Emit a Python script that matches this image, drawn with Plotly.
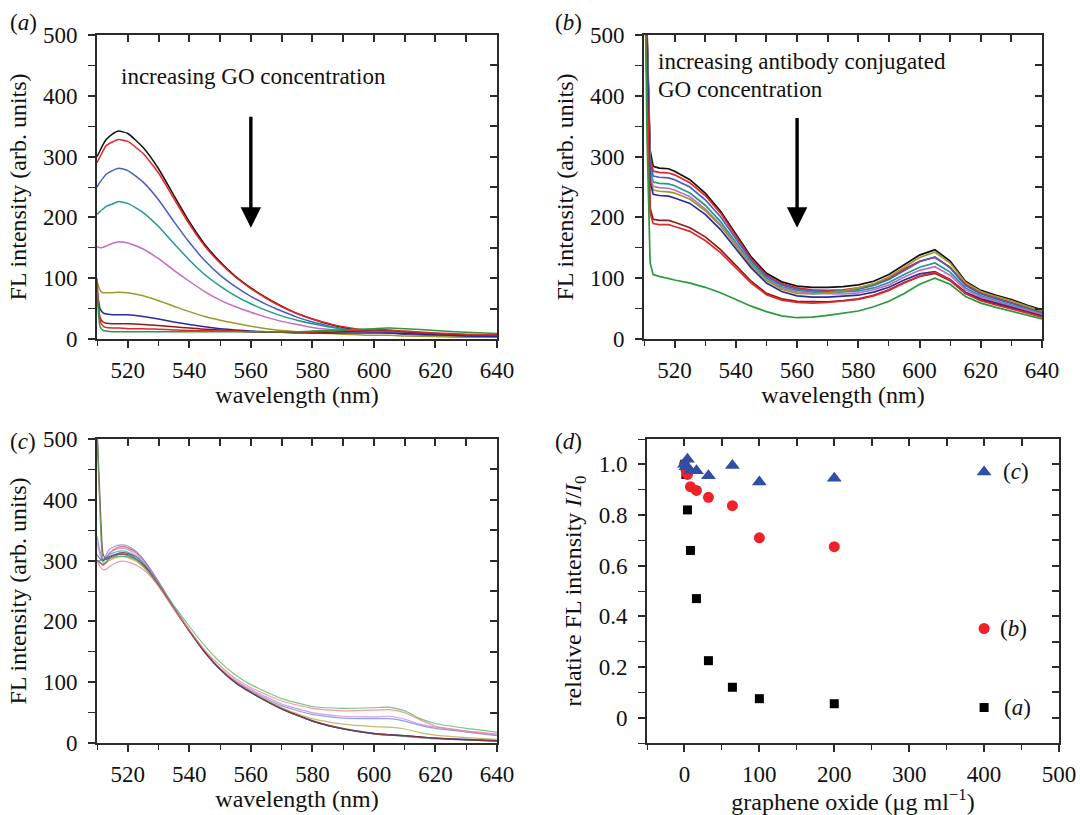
import plotly.graph_objects as go

# ---------------- data ----------------
names = ["0", "2", "4", "8", "16", "32", "64", "100", "200", "400"]
colors = ["#111111", "#ee2222", "#4a5cc4", "#20998e", "#c46cc8",
          "#9a9a28", "#2a2a9c", "#8b1c1c", "#e02a2a", "#2a9a3c"]

# panel (a)  GO
wl_a = [510, 511, 512, 513, 515, 517, 520, 525, 530, 535, 540, 545, 550, 555,
        560, 565, 570, 575, 580, 585, 590, 595, 600, 605, 610, 620, 630, 640]
a_black = [300, 310, 320, 328, 337, 342, 338, 315, 280, 236, 193, 156, 127, 103, 84, 68, 54, 42, 33, 25, 19, 15, 12, 10, 8, 6, 5, 4]
a_red = [290, 300, 310, 318, 324, 328, 325, 305, 273, 231, 189, 153, 125, 102, 83, 67, 53, 42, 33, 26, 20, 16, 13, 11, 9, 7, 5, 4]
a_blue = [250, 258, 265, 271, 277, 281, 277, 258, 229, 193, 159, 129, 105, 86, 70, 57, 46, 36, 28, 22, 17, 14, 12, 10, 9, 7, 5, 4]
a_teal = [205, 210, 214, 218, 222, 226, 223, 208, 185, 157, 130, 106, 87, 71, 58, 47, 38, 31, 25, 20, 16, 14, 13, 12, 11, 9, 7, 5]
a_magenta = [152, 150, 151, 153, 157, 160, 158, 148, 132, 113, 95, 78, 64, 53, 44, 36, 29, 24, 19, 16, 14, 12, 11, 10, 9, 7, 6, 5]
a_olive = [95, 80, 76, 76, 76, 77, 76, 71, 63, 54, 45, 37, 31, 26, 21, 17, 14, 12, 10, 9, 8, 7, 6, 6, 5, 4, 3, 3]
a_navy = [80, 50, 43, 41, 40, 40, 40, 37, 33, 28, 24, 20, 17, 15, 13, 12, 11, 10, 10, 10, 10, 10, 10, 10, 9, 7, 5, 4]
a_maroon = [75, 35, 28, 26, 25, 25, 25, 24, 22, 20, 18, 16, 15, 13, 12, 11, 11, 11, 11, 11, 12, 13, 14, 14, 12, 9, 7, 6]
a_red2 = [100, 30, 21, 19, 18, 18, 17, 17, 16, 15, 14, 14, 13, 13, 12, 12, 12, 12, 12, 13, 14, 15, 15, 15, 13, 10, 8, 7]
a_green = [85, 20, 14, 13, 12, 12, 12, 12, 12, 12, 12, 12, 12, 12, 12, 12, 12, 12, 13, 14, 15, 16, 17, 18, 17, 14, 11, 9]

# panel (b)  antibody conjugated GO
wl_b = [510, 511, 512, 513, 515, 518, 520, 525, 530, 535, 540, 545, 550, 555, 560, 565,
        570, 575, 580, 585, 590, 595, 600, 605, 610, 615, 620, 625, 630, 635, 640]
b_black = [700, 520, 310, 284, 281, 280, 276, 262, 240, 210, 173, 135, 108, 94, 87, 85, 85, 86, 89, 95, 106, 122, 138, 147, 128, 95, 80, 72, 65, 56, 48]
b_red = [700, 510, 300, 276, 274, 273, 270, 257, 236, 207, 170, 132, 105, 91, 84, 81, 80, 81, 84, 90, 100, 115, 128, 134, 118, 90, 76, 68, 61, 52, 44]
b_blue = [700, 500, 290, 268, 266, 265, 262, 250, 229, 201, 166, 129, 103, 89, 82, 79, 78, 79, 82, 88, 98, 113, 127, 135, 117, 88, 74, 66, 59, 51, 43]
b_teal = [700, 490, 280, 258, 256, 255, 252, 240, 220, 193, 160, 125, 100, 86, 80, 77, 76, 77, 79, 84, 93, 106, 118, 125, 110, 84, 71, 63, 56, 49, 41]
b_magenta = [700, 480, 272, 251, 249, 248, 245, 234, 214, 188, 156, 122, 97, 84, 78, 75, 74, 74, 76, 81, 89, 102, 113, 119, 105, 81, 69, 61, 54, 47, 40]
b_olive = [700, 470, 265, 245, 243, 242, 240, 230, 211, 186, 154, 121, 96, 82, 75, 74, 76, 79, 84, 91, 102, 118, 134, 143, 125, 93, 78, 70, 63, 54, 46]
b_navy = [700, 460, 258, 238, 236, 235, 232, 223, 205, 180, 149, 117, 92, 78, 71, 69, 69, 70, 72, 77, 85, 97, 107, 111, 98, 77, 66, 59, 52, 45, 38]
b_maroon = [700, 420, 215, 197, 195, 195, 192, 183, 168, 147, 121, 95, 75, 66, 62, 61, 61, 63, 66, 72, 81, 93, 103, 108, 96, 75, 64, 57, 51, 44, 37]
b_red2 = [700, 410, 207, 190, 188, 188, 185, 177, 162, 142, 117, 92, 73, 64, 60, 59, 60, 62, 65, 71, 80, 92, 103, 110, 97, 75, 63, 56, 50, 43, 36]
b_green = [700, 330, 125, 106, 103, 99, 97, 92, 85, 76, 65, 54, 45, 38, 35, 36, 39, 42, 46, 53, 62, 75, 90, 100, 90, 70, 59, 52, 46, 40, 33]

# panel (c)
wl_c = [510, 511, 512, 513, 514, 516, 518, 520, 523, 526, 530, 535, 540, 545, 550,
        555, 560, 570, 580, 590, 600, 605, 610, 615, 620, 630, 640]
c_black = [520, 400, 310, 302, 305, 310, 313, 312, 305, 290, 262, 222, 185, 150, 122, 100, 84, 57, 37, 24, 16, 14, 12, 10, 8, 6, 4]
c_red = [505, 380, 300, 305, 312, 320, 323, 321, 312, 295, 265, 223, 185, 150, 121, 99, 83, 56, 36, 23, 15, 13, 11, 9, 7, 5, 3]
c_blue = [340, 315, 300, 310, 318, 324, 326, 324, 314, 296, 265, 223, 185, 150, 122, 101, 86, 61, 47, 41, 40, 40, 36, 29, 24, 18, 12]
c_teal = [300, 300, 302, 306, 310, 314, 316, 314, 306, 290, 262, 222, 184, 149, 121, 99, 83, 56, 36, 23, 15, 13, 11, 9, 7, 5, 3]
c_magenta = [330, 310, 298, 305, 312, 318, 320, 318, 309, 292, 264, 223, 186, 151, 123, 103, 88, 64, 50, 44, 43, 44, 39, 31, 26, 19, 13]
c_olive = [300, 296, 292, 296, 300, 305, 307, 305, 298, 284, 258, 220, 184, 150, 122, 100, 84, 58, 40, 31, 27, 26, 23, 17, 13, 9, 6]
c_navy = [310, 303, 300, 304, 307, 310, 311, 310, 302, 288, 261, 222, 185, 150, 121, 99, 83, 56, 36, 23, 16, 14, 12, 10, 8, 6, 4]
c_maroon = [300, 297, 293, 298, 303, 308, 310, 308, 301, 287, 260, 221, 184, 149, 121, 99, 83, 56, 36, 23, 15, 13, 12, 10, 8, 5, 3]
c_pink = [300, 290, 285, 286, 290, 296, 299, 298, 292, 281, 258, 221, 186, 153, 127, 106, 91, 69, 57, 53, 54, 55, 50, 38, 28, 20, 15]
c_green = [520, 380, 295, 298, 303, 306, 307, 306, 300, 286, 262, 226, 192, 160, 133, 112, 96, 73, 60, 57, 58, 59, 53, 40, 32, 24, 18]

# panel (d)
conc = [0, 2, 4, 8, 16, 32, 64, 100, 200, 400]
rel_a = [1.0, 0.96, 0.82, 0.66, 0.47, 0.225, 0.12, 0.075, 0.055, 0.04]
rel_b = [1.0, 0.98, 0.96, 0.912, 0.897, 0.87, 0.837, 0.71, 0.675, 0.352]
rel_c = [1.0, 0.99, 1.02, 0.975, 0.975, 0.955, 0.995, 0.93, 0.945, 0.97]

xtick_wl = [520, 540, 560, 580, 600, 620, 640]
ytick_fl = [0, 100, 200, 300, 400, 500]
xtick_d = [0, 100, 200, 300, 400, 500]
ytick_d = [0, 0.2, 0.4, 0.6, 0.8, 1.0]
ytick_d_text = ["0", "0.2", "0.4", "0.6", "0.8", "1.0"]

# ---------------- figure ----------------
FONT = "Liberation Serif, Times New Roman, serif"
AX = "#2a2a2a"
FS = 23
FT = 24
W, H = 1080, 815

def dom_x(l, r):
    return [l / W, r / W]

def dom_y(t, b):
    return [1 - b / H, 1 - t / H]

fig = go.Figure()

a_series = [a_black, a_red, a_blue, a_teal, a_magenta, a_olive, a_navy, a_maroon, a_red2, a_green]
b_series = [b_black, b_red, b_blue, b_teal, b_magenta, b_olive, b_navy, b_maroon, b_red2, b_green]
c_series = [c_black, c_red, c_blue, c_teal, c_magenta, c_olive, c_navy, c_maroon, c_pink, c_green]
c_colors = ["#333333", "#e23a3a", "#6b7fe0", "#35a89d", "#c77cd0",
            "#a8a840", "#3a3aa8", "#902a2a", "#f07a8a", "#4cb35a"]

for s, col, nm in zip(a_series, colors, names):
    fig.add_trace(go.Scatter(x=wl_a, y=s, mode="lines", name=nm, xaxis="x", yaxis="y",
                             line=dict(color=col, width=1.5, shape="spline", smoothing=0.5)))
for s, col, nm in zip(b_series, colors, names):
    fig.add_trace(go.Scatter(x=wl_b, y=s, mode="lines", name=nm, xaxis="x2", yaxis="y2",
                             line=dict(color=col, width=1.7)))
for s, col, nm in zip(c_series, c_colors, names):
    fig.add_trace(go.Scatter(x=wl_c, y=s, mode="lines", name=nm, xaxis="x3", yaxis="y3",
                             opacity=0.75,
                             line=dict(color=col, width=1.2, shape="spline", smoothing=0.5)))

fig.add_trace(go.Scatter(x=conc, y=rel_a, mode="markers", xaxis="x4", yaxis="y4",
                         marker=dict(symbol="square", size=9, color="#000000")))
fig.add_trace(go.Scatter(x=conc, y=rel_b, mode="markers", xaxis="x4", yaxis="y4",
                         marker=dict(symbol="circle", size=11, color="#ee2228")))
fig.add_trace(go.Scatter(x=conc, y=rel_c, mode="markers", xaxis="x4", yaxis="y4",
                         marker=dict(symbol="triangle-up", size=13, color="#2f4ea8")))

tickfont = dict(family=FONT, size=FS, color="#111111")
titlefont = dict(family=FONT, size=FT, color="#111111")

def base_x(dom, anchor, rng, tickvals, minor_dtick, title, ticktext=None):
    d = dict(domain=dom, anchor=anchor, range=rng, tickmode="array", tickvals=tickvals,
             ticks="outside", ticklen=7, tickwidth=1.6, tickcolor=AX, automargin=False,
             showline=True, linecolor=AX, linewidth=1.8, showgrid=False, zeroline=False,
             tickfont=tickfont, ticklabelstandoff=2,
             title=dict(text=title, font=titlefont, standoff=2),
             minor=dict(ticks="outside", ticklen=5, tickwidth=1.4, tickcolor=AX,
                        dtick=minor_dtick, tick0=0, showgrid=False))
    if ticktext is not None:
        d["ticktext"] = ticktext
    return d

def base_y(dom, anchor, rng, tickvals, minor_dtick, title, ticktext=None):
    d = dict(domain=dom, anchor=anchor, range=rng, tickmode="array", tickvals=tickvals,
             ticks="outside", ticklen=7, tickwidth=1.6, tickcolor=AX, automargin=False,
             showline=True, linecolor=AX, linewidth=1.8, showgrid=False, zeroline=False,
             tickfont=tickfont, ticklabelstandoff=6,
             title=dict(text=title, font=titlefont, standoff=10),
             minor=dict(ticks="outside", ticklen=7, tickwidth=1.4, tickcolor=AX,
                        dtick=minor_dtick, tick0=0, showgrid=False))
    if ticktext is not None:
        d["ticktext"] = ticktext
    return d

def mirror_x(over, anchor, rng, dtick, minor_dtick):
    return dict(overlaying=over, anchor=anchor, side="top", range=rng, automargin=False,
                tick0=0, dtick=dtick, ticks="inside", ticklen=7, tickwidth=1.6, tickcolor=AX,
                showticklabels=False, showline=True, linecolor=AX, linewidth=1.8,
                showgrid=False, zeroline=False,
                minor=dict(ticks="inside", ticklen=6, tickwidth=1.4, tickcolor=AX,
                           dtick=minor_dtick, tick0=0, showgrid=False))

def mirror_y(over, anchor, rng, dtick, minor_dtick):
    return dict(overlaying=over, anchor=anchor, side="right", range=rng, automargin=False,
                tick0=0, dtick=dtick, ticks="inside", ticklen=7, tickwidth=1.6, tickcolor=AX,
                showticklabels=False, showline=True, linecolor=AX, linewidth=1.8,
                showgrid=False, zeroline=False,
                minor=dict(ticks="inside", ticklen=7, tickwidth=1.4, tickcolor=AX,
                           dtick=minor_dtick, tick0=0, showgrid=False))

dxa = dom_x(97, 497)
dxb = dom_x(644, 1042)
dxd = dom_x(647, 1059)
dytop = dom_y(35, 339)
dybot = dom_y(439, 743)

ylab = "FL intensity (arb. units)"
xlab = "wavelength (nm)"

layout = dict(
    template="none",
    width=W, height=H, margin=dict(l=0, r=0, t=0, b=0, pad=0, autoexpand=False),
    paper_bgcolor="white", plot_bgcolor="white", showlegend=False,
    font=dict(family=FONT, size=FS, color="#111111"),
    xaxis=base_x(dxa, "y", [510, 640], xtick_wl, 10, xlab),
    yaxis=base_y(dytop, "x", [0, 500], ytick_fl, 50, ylab),
    xaxis2=base_x(dxb, "y2", [510, 640], xtick_wl, 10, xlab),
    yaxis2=base_y(dytop, "x2", [0, 500], ytick_fl, 50, ylab),
    xaxis3=base_x(dxa, "y3", [510, 640], xtick_wl, 10, xlab),
    yaxis3=base_y(dybot, "x3", [0, 500], ytick_fl, 50, ylab),
    xaxis4=base_x(dxd, "y4", [-50, 500], xtick_d, 50, "graphene oxide (μg ml<sup>−1</sup>)"),
    yaxis4=base_y(dybot, "x4", [-0.1, 1.1], ytick_d, 0.1,
                  "relative FL intensity <i>I</i>/<i>I</i><sub>0</sub>", ytick_d_text),
    xaxis5=mirror_x("x", "y", [510, 640], 10, 10),
    yaxis5=mirror_y("y", "x", [0, 500], 50, 50),
    xaxis6=mirror_x("x2", "y2", [510, 640], 10, 10),
    yaxis6=mirror_y("y2", "x2", [0, 500], 50, 50),
    xaxis7=mirror_x("x3", "y3", [510, 640], 10, 10),
    yaxis7=mirror_y("y3", "x3", [0, 500], 50, 50),
    xaxis8=mirror_x("x4", "y4", [-50, 500], 50, 50),
    yaxis8=mirror_y("y4", "x4", [-0.1, 1.1], 0.1, 0.1),
)
fig.update_layout(**layout)

# mirror-axis holders (empty traces so overlay axes are drawn)
for xa, ya in [("x5", "y"), ("x", "y5"), ("x6", "y2"), ("x2", "y6"),
               ("x7", "y3"), ("x3", "y7"), ("x8", "y4"), ("x4", "y8")]:
    fig.add_trace(go.Scatter(x=[None], y=[None], xaxis=xa, yaxis=ya, mode="lines",
                             hoverinfo="skip", showlegend=False))

ann = []
# panel letters
for txt, px, py in [("(<i>a</i>)", 8, 23), ("(<i>b</i>)", 553, 23),
                    ("(<i>c</i>)", 8, 441), ("(<i>d</i>)", 553, 441)]:
    ann.append(dict(text=txt, xref="paper", yref="paper", x=px / W, y=1 - py / H,
                    xanchor="left", yanchor="middle", showarrow=False,
                    font=dict(family=FONT, size=FS, color="#111111")))

# panel a text + arrow
ann.append(dict(text="increasing GO concentration", xref="x", yref="y", x=517, y=431,
                xanchor="left", yanchor="middle", showarrow=False,
                font=dict(family=FONT, size=FS, color="#111111")))
ann.append(dict(text="", xref="x", yref="y", x=560, y=183, axref="x", ayref="y",
                ax=560, ay=368, showarrow=True, arrowhead=2, arrowsize=1.2,
                arrowwidth=3.4, arrowcolor="#000000"))
# panel b text + arrow
ann.append(dict(text="increasing antibody conjugated", xref="x2", yref="y2", x=514, y=456,
                xanchor="left", yanchor="middle", showarrow=False,
                font=dict(family=FONT, size=FS, color="#111111")))
ann.append(dict(text="GO concentration", xref="x2", yref="y2", x=514, y=411,
                xanchor="left", yanchor="middle", showarrow=False,
                font=dict(family=FONT, size=FS, color="#111111")))
ann.append(dict(text="", xref="x2", yref="y2", x=560, y=183, axref="x2", ayref="y2",
                ax=560, ay=366, showarrow=True, arrowhead=2, arrowsize=1.2,
                arrowwidth=3.4, arrowcolor="#000000"))
# panel d series labels
for txt, val, sh in [("(<i>c</i>)", rel_c[-1], 17), ("(<i>b</i>)", rel_b[-1], 14),
                     ("(<i>a</i>)", rel_a[-1], 18)]:
    ann.append(dict(text=txt, xref="x4", yref="y4", x=conc[-1], y=val, xanchor="left",
                    yanchor="middle", xshift=sh, showarrow=False,
                    font=dict(family=FONT, size=FS, color="#111111")))

fig.update_layout(annotations=ann)
fig.write_html("out.html", config={"displayModeBar": False},
               post_script="document.body.style.margin='0';document.body.style.padding='0';")
